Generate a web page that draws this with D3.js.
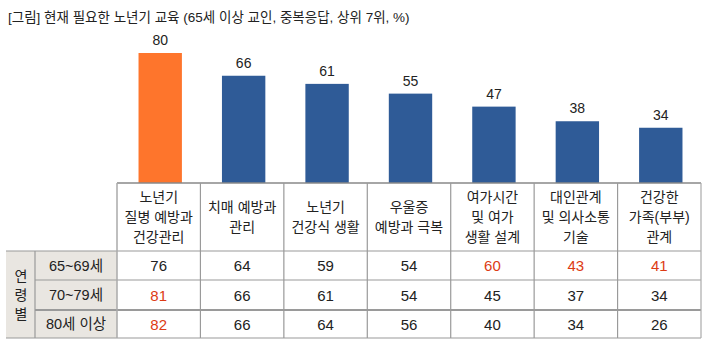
<!DOCTYPE html>
<html><head><meta charset="utf-8">
<script src="https://cdn.jsdelivr.net/npm/d3@7"></script>
<style>body{margin:0;background:#fff}svg{display:block}text{font-family:"Liberation Sans","Noto Sans CJK KR",sans-serif}</style>
</head><body><svg id="c" width="715" height="357"></svg>
<script>
const title = "[그림] 현재 필요한 노년기 교육 (65세 이상 교인, 중복응답, 상위 7위, %)";
const categories = [
  ["노년기","질병 예방과","건강관리"],
  ["치매 예방과","관리"],
  ["노년기","건강식 생활"],
  ["우울증","예방과 극복"],
  ["여가시간","및 여가","생활 설계"],
  ["대인관계","및 의사소통","기술"],
  ["건강한","가족(부부)","관계"]
];
const totals = [80, 66, 61, 55, 47, 38, 34];
const groupLabel = "연령별";
const rowLabels = ["65~69세", "70~79세", "80세 이상"];
const row1 = [76, 64, 59, 54, 60, 43, 41];
const row2 = [81, 66, 61, 54, 45, 37, 34];
const row3 = [82, 66, 64, 56, 40, 34, 26];
const highlight = [[4,5,6],[0],[0]];
const rows = [row1, row2, row3];

const svg = d3.select("#c");
const x = d3.scaleBand().domain(d3.range(categories.length)).range([117, 701]).paddingInner(0.48).paddingOuter(0.24);
const xc = d3.scaleBand().domain(d3.range(categories.length)).range([117, 701]);
const y = d3.scaleLinear().domain([0, 80]).range([183, 53]);

svg.append("text").attr("x", 8).attr("y", 22).attr("font-size", 13.5).attr("fill", "#222").text(title);

svg.selectAll("rect.bar").data(totals).join("rect").attr("class","bar")
  .attr("x", (d,i)=>x(i)+1.5).attr("width", x.bandwidth()).attr("y", d=>y(d)).attr("height", d=>y(0)-y(d))
  .attr("fill", (d,i)=> i===0 ? "#fe752c" : "#2f5b97");
svg.selectAll("text.val").data(totals).join("text").attr("class","val")
  .attr("x", (d,i)=>x(i)+1.5+x.bandwidth()/2).attr("y", d=>y(d)-8).attr("text-anchor","middle")
  .attr("font-size", 14).attr("fill","#222").text(d=>d);

// table
const rowY = [251, 280, 310, 338];
const hdrTop = 183;
svg.append("rect").attr("x",6).attr("y",rowY[0]).attr("width",111).attr("height",rowY[3]-rowY[0]).attr("fill","#e9e6e1");
const lineC = "#9a9a9a";
svg.append("line").attr("x1",117).attr("x2",701).attr("y1",hdrTop).attr("y2",hdrTop).attr("stroke","#888").attr("stroke-width",1.5);
rowY.forEach((yy,i)=>{
  svg.append("line").attr("x1", i===0||i===3 ? 6 : 35).attr("x2",701).attr("y1",yy).attr("y2",yy)
    .attr("stroke", lineC).attr("stroke-width", i===2 ? 2 : 1.2);
});
[35].forEach(xx=>svg.append("line").attr("x1",xx).attr("x2",xx).attr("y1",rowY[0]).attr("y2",rowY[3]).attr("stroke",lineC).attr("stroke-width",1.2));
d3.range(categories.length+1).forEach(i=>{
  const xx = i<categories.length ? xc(i) : 701;
  svg.append("line").attr("x1",xx).attr("x2",xx).attr("y1",hdrTop).attr("y2",rowY[3])
    .attr("stroke", i===0||i===categories.length ? "#aaa" : lineC).attr("stroke-width", i===0? 1.5 : 1.2);
});
categories.forEach((lines,i)=>{
  const cx = xc(i)+xc.bandwidth()/2;
  const mid = (hdrTop+rowY[0])/2;
  lines.forEach((t,j)=>{
    svg.append("text").attr("x",cx).attr("y", mid + (j-(lines.length-1)/2)*20 + 5)
      .attr("text-anchor","middle").attr("font-size",14).attr("fill","#222").text(t);
  });
});
rowLabels.forEach((t,r)=>{
  svg.append("text").attr("x",76).attr("y",(rowY[r]+rowY[r+1])/2+5).attr("text-anchor","middle")
    .attr("font-size",14.5).attr("fill","#222").text(t);
});
groupLabel.split("").forEach((ch,j)=>{
  svg.append("text").attr("x",21).attr("y",(rowY[0]+rowY[3])/2 + (j-1)*19 + 5).attr("text-anchor","middle")
    .attr("font-size",14).attr("fill","#222").text(ch);
});
rows.forEach((vals,r)=>{
  vals.forEach((v,i)=>{
    svg.append("text").attr("x",xc(i)+xc.bandwidth()/2).attr("y",(rowY[r]+rowY[r+1])/2+5.5)
      .attr("text-anchor","middle").attr("font-size",15)
      .attr("fill", highlight[r].includes(i) ? "#dd3b14" : "#222").text(v);
  });
});
</script></body></html>
